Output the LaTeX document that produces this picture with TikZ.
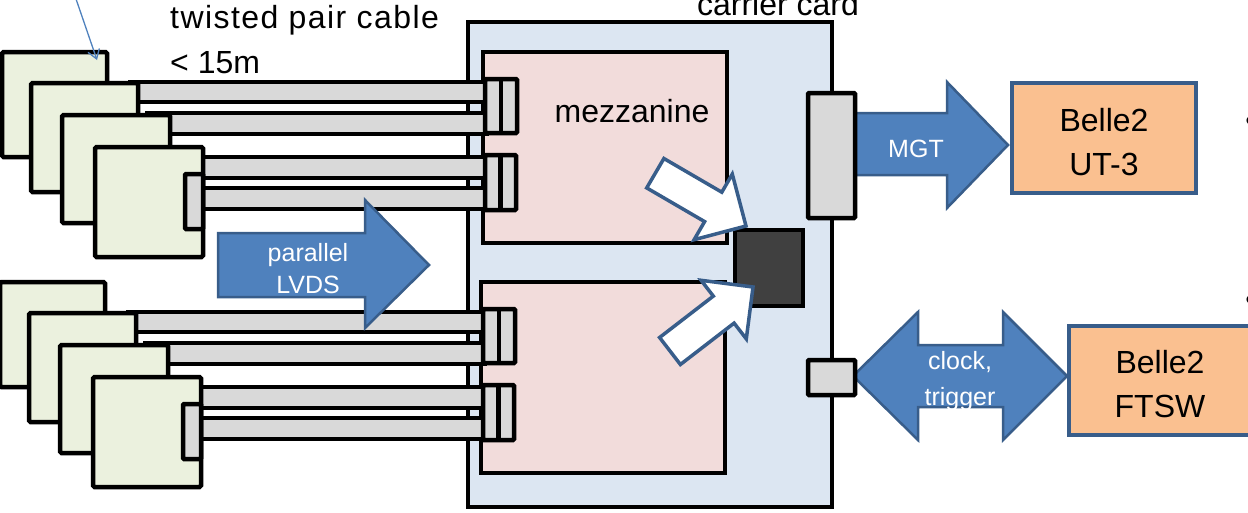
\documentclass[tikz,border=0pt]{standalone}
\usepackage{fontspec}
\setmainfont{Liberation Sans}
\usetikzlibrary{arrows.meta}
\definecolor{blueA}{HTML}{4F81BD}
\definecolor{blueB}{HTML}{385D8A}
\definecolor{carrierC}{HTML}{DCE6F2}
\definecolor{mezzC}{HTML}{F2DCDB}
\definecolor{detC}{HTML}{EBF1DE}
\definecolor{grayC}{HTML}{D9D9D9}
\definecolor{chipC}{HTML}{404040}
\definecolor{belleC}{HTML}{FAC090}
\tikzset{
 blk/.style={draw=black,line width=4.5pt,inner sep=0pt,outer sep=0pt},
 carrier/.style={blk,fill=carrierC,line width=4pt},
 mezz/.style={blk,fill=mezzC},
 det/.style={blk,fill=detC,rounded corners=1.5pt},
 cable/.style={blk,fill=grayC},
 conn/.style={blk,fill=grayC,rounded corners=1pt},
 chip/.style={blk,fill=chipC},
 belle/.style={draw=blueB,line width=4pt,fill=belleC,inner sep=0pt,outer sep=0pt},
 bigarrow/.style={draw=blueB,fill=blueA,line width=2.5pt,line join=miter},
 whitearrow/.style={draw=blueB,fill=white,line width=3.5pt,line join=miter},
 bigtxt/.style={font=\fontsize{32}{44}\selectfont,inner sep=0pt},
 arrtxt/.style={font=\fontsize{25}{32}\selectfont,text=white,inner sep=0pt},
 pointer/.style={draw=blueA,line width=1.3pt,-{Straight Barb[length=9pt,width=12pt]}},
}
\newcommand\bx[6]{\node[#2,anchor=north west,minimum width={(#5-#3)*1pt},minimum height={(#6-#4)*1pt}] (#1) at (#3,#4) {};}
\newcommand\detgroup[1]{%
 \bx{#1mezz}{mezz}{483}{52}{727}{243}
 \bx{#1cab1}{cable}{130}{82}{487}{102}
 \bx{#1cab2}{cable}{147}{113}{487}{134}
 \bx{#1cab3}{cable}{195}{157}{487}{178}
 \bx{#1cab4}{cable}{195}{188}{487}{209}
 \bx{#1con1}{conn}{485}{79}{517}{133}
 \draw[line width=4.5pt] (#1con1.north) -- (#1con1.south);
 \bx{#1con2}{conn}{485}{155}{516}{210}
 \draw[line width=4.5pt] (#1con2.north) -- (#1con2.south);
 \bx{#1det1}{det}{2}{52}{107}{157}
 \bx{#1det2}{det}{31}{83}{138}{192}
 \bx{#1det3}{det}{62}{115}{170}{223}
 \bx{#1det4}{det}{95}{147}{203}{257}
 \bx{#1plug}{conn}{185}{174}{203}{229}
}
\begin{document}
\begin{tikzpicture}[x=1pt,y=-1pt]
\useasboundingbox (0,0) rectangle (1248,512);
\clip (0,0) rectangle (1248,512);
% carrier card
\bx{carrier}{carrier}{468}{22}{832}{507}
\node[bigtxt,anchor=base] (carrierT) at (778,15) {carrier card};
% detector groups
\begin{scope}\detgroup{t}\end{scope}
\begin{scope}[shift={(-2,230)}]\detgroup{b}\end{scope}
\node[bigtxt,anchor=base] (mezzT) at (632,122) {mezzanine};
% chip
\bx{chip}{chip}{735}{230}{803}{306}
% white arrows to chip
\draw[whitearrow] (746,226) -- (732.3,174.1) -- (721.8,192.2) -- (663.9,158.5) -- (646.7,187.9) -- (704.6,221.6) -- (694.1,239.7) -- cycle;
\draw[whitearrow] (753,287) -- (746.3,338.9) -- (734.1,323.1) -- (680.4,364.5) -- (659.6,337.5) -- (713.3,296.1) -- (701.1,280.3) -- cycle;
% parallel LVDS arrow
\draw[bigarrow] (218,233) -- (365,233) -- (365,200) -- (429,265) -- (365,328) -- (365,297) -- (218,297) -- cycle;
\node[arrtxt,align=center,anchor=base] (lvdsT) at (308,293) {parallel\\LVDS};
% MGT arrow
\draw[bigarrow] (853,113) -- (947,113) -- (947,82) -- (1008,145) -- (947,208) -- (947,175) -- (853,175) -- cycle;
\node[arrtxt,anchor=base] (mgtT) at (916,157) {MGT};
\bx{mgtc}{conn}{808}{93}{855}{218}
% clock/trigger double arrow
\draw[bigarrow] (853,376) -- (918,312) -- (918,345) -- (1003,345) -- (1003,312) -- (1067,376) -- (1003,440) -- (1003,407) -- (918,407) -- (918,440) -- cycle;
\node[arrtxt,align=center,anchor=base,font=\fontsize{25}{36}\selectfont] (clkT) at (960,405) {clock,\\trigger};
\bx{clkc}{conn}{808}{360}{855}{395}
% Belle2 boxes
\bx{ut3}{belle}{1012}{83}{1196}{193}
\node[bigtxt,align=center,anchor=base] (ut3T) at (1104,175) {Belle2\\UT-3};
\bx{ftsw}{belle}{1069}{326}{1262}{435}
\node[bigtxt,align=center,anchor=base] (ftswT) at (1160,417) {Belle2\\FTSW};
% bullets
\node[bigtxt,anchor=base] (bul1) at (1251,131) {•};
\node[bigtxt,anchor=base] (bul2) at (1251,310) {•};
% labels
\node[bigtxt,anchor=base west,font=\fontsize{32}{44}\selectfont\addfontfeature{LetterSpace=4.5}] (twT) at (170,28) {twisted pair cable};
\node[bigtxt,anchor=base west] (lenT) at (170,73) {< 15m};
% pointer
\coordinate (pstart) at (75,-4);
\coordinate (ptip) at (97,60);
\draw[pointer] (pstart) -- (ptip);
\end{tikzpicture}
\end{document}
